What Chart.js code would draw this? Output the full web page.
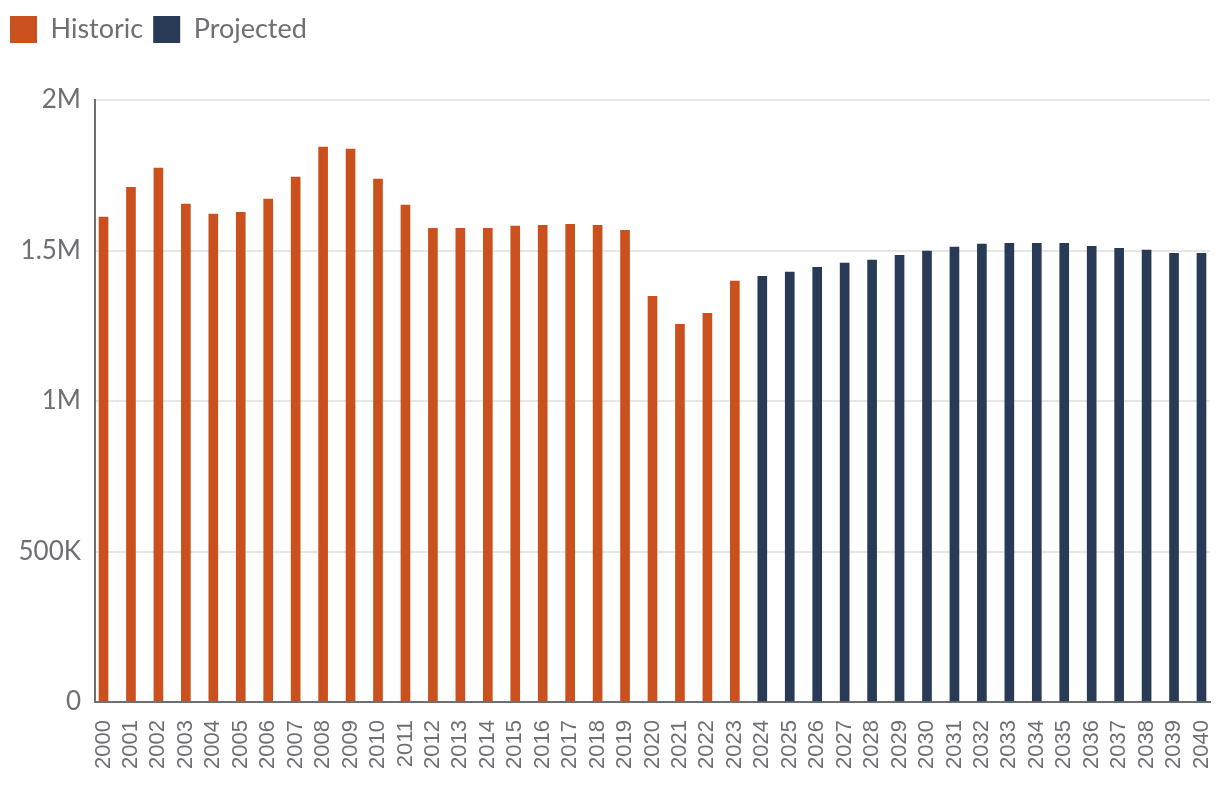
<!DOCTYPE html>
<html>
<head>
<meta charset="utf-8">
<script src="https://cdn.jsdelivr.net/npm/chart.js@4.4.1/dist/chart.umd.min.js"></script>
<style>
  body { margin: 0; background: #fff; }
  .chart-container { width: 1220px; height: 800px; position: relative; }
</style>
</head>
<body>
<div class="chart-container"><canvas id="graficoAnos"></canvas></div>
<script>
const anos = [2000, 2001, 2002, 2003, 2004, 2005, 2006, 2007, 2008, 2009, 2010,
    2011, 2012, 2013, 2014, 2015, 2016, 2017, 2018, 2019, 2020, 2021, 2022, 2023,
    2024, 2025, 2026, 2027, 2028, 2029, 2030, 2031, 2032, 2033, 2034, 2035, 2036,
    2037, 2038, 2039, 2040];

// 2000-2023
const historico = [1611000, 1710000, 1774000, 1654000, 1621000, 1627000, 1671000,
    1744000, 1844000, 1837000, 1737000, 1651000, 1574000, 1574000, 1574000, 1581000,
    1584000, 1587000, 1584000, 1567000, 1348000, 1255000, 1291000, 1398000];

// 2024-2040
const projetado = [1414000, 1428000, 1444000, 1458000, 1468000, 1484000, 1498000,
    1511000, 1521000, 1524000, 1524000, 1524000, 1514000, 1507000, 1501000, 1491000,
    1491000];

const ticksY = [0, 500000, 1000000, 1500000, 2000000];
const rotulosY = ['0', '500K', '1M', '1.5M', '2M'];

const cinza = '#6d6f73';

const pontosHist = historico.map((v, i) => ({ x: anos[i], y: v }));
const pontosProj = projetado.map((v, i) => ({ x: anos[historico.length + i], y: v }));

// legenda mais alta para empurrar a area do grafico para baixo
const espacoLegenda = {
    id: 'espacoLegenda',
    beforeInit(chart) {
        const fitOriginal = chart.legend.fit;
        chart.legend.fit = function () {
            fitOriginal.call(this);
            this.height += 47;
        };
    }
};

const ctx = document.getElementById('graficoAnos').getContext('2d');

new Chart(ctx, {
    type: 'bar',
    data: {
        datasets: [{
            label: 'Historic',
            data: pontosHist,
            backgroundColor: '#ca501d'
        }, {
            label: 'Projected',
            data: pontosProj,
            backgroundColor: '#283a55'
        }]
    },
    options: {
        responsive: true,
        maintainAspectRatio: false,
        animation: false,
        barThickness: 9,
        layout: { padding: { top: 6, left: 0, right: 10, bottom: 0 } },
        plugins: {
            legend: {
                position: 'top',
                align: 'start',
                labels: {
                    boxWidth: 27,
                    boxHeight: 27,
                    padding: 10,
                    color: cinza,
                    font: { family: 'Lato', size: 27 }
                }
            },
            tooltip: { enabled: false }
        },
        scales: {
            x: {
                type: 'linear',
                stacked: true,
                offset: false,
                min: anos[0] - 0.31,
                max: anos[anos.length - 1] + 0.31,
                afterFit(scale) {
                    scale.height = 98;
                    scale.paddingRight = 0;
                    scale.paddingLeft = 0;
                },
                grid: { display: false, drawTicks: false },
                border: { color: cinza, width: 2 },
                ticks: {
                    stepSize: 1,
                    includeBounds: false,
                    autoSkip: false,
                    minRotation: 90,
                    maxRotation: 90,
                    padding: 18,
                    color: cinza,
                    font: { family: 'Liberation Sans', size: 22 },
                    callback: (v) => String(v)
                }
            },
            y: {
                min: 0,
                max: 2000000,
                afterFit(scale) { scale.width = 95; },
                afterBuildTicks(scale) {
                    scale.ticks = ticksY.map(v => ({ value: v }));
                },
                grid: { color: '#e6e6e6', lineWidth: 2, drawTicks: false },
                border: { color: cinza, width: 2 },
                ticks: {
                    padding: 14,
                    color: cinza,
                    font: { family: 'Lato', size: 26 },
                    callback: (v) => rotulosY[ticksY.indexOf(v)]
                }
            }
        }
    },
    plugins: [espacoLegenda]
});
</script>
</body>
</html>
